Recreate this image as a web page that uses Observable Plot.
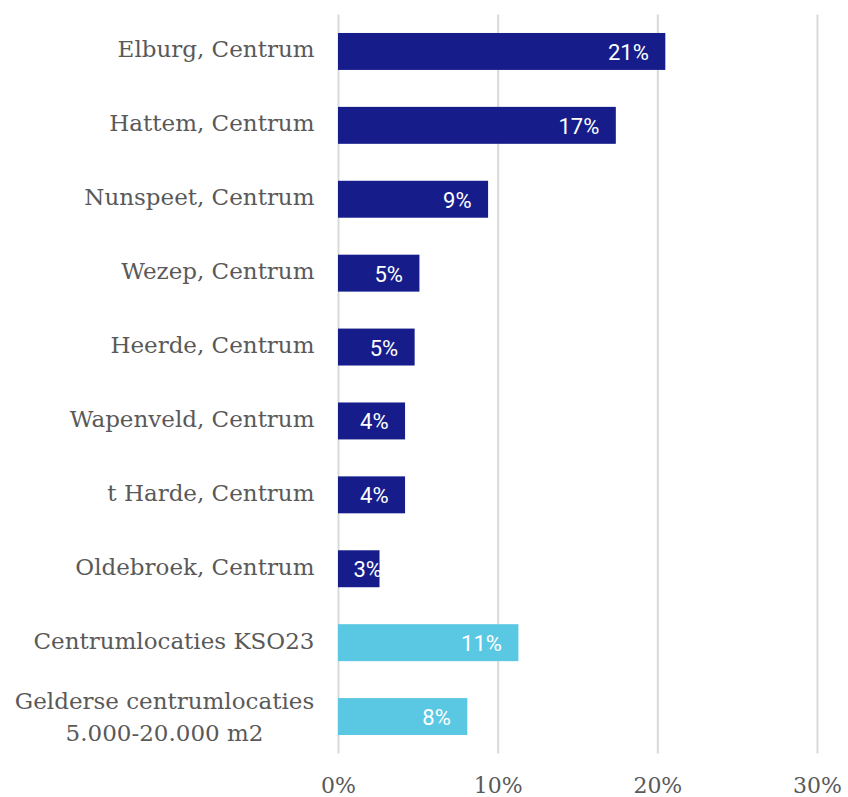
<!DOCTYPE html>
<html>
<head>
<meta charset="utf-8">
<script src="https://cdn.jsdelivr.net/npm/d3@7"></script>
<script src="https://cdn.jsdelivr.net/npm/@observablehq/plot@0.6"></script>
<style>
  html, body { margin: 0; padding: 0; background: #fff; }
  #chart svg { display: block; }
</style>
</head>
<body>
<div id="chart"></div>
<script>
const categories = [
  "Elburg, Centrum",
  "Hattem, Centrum",
  "Nunspeet, Centrum",
  "Wezep, Centrum",
  "Heerde, Centrum",
  "Wapenveld, Centrum",
  "t Harde, Centrum",
  "Oldebroek, Centrum",
  "Centrumlocaties KSO23",
  "Gelderse centrumlocaties\n5.000-20.000 m2"
];
const values = [0.205, 0.174, 0.094, 0.051, 0.048, 0.042, 0.042, 0.026, 0.113, 0.081];
const labels = ["21%", "17%", "9%", "5%", "5%", "4%", "4%", "3%", "11%", "8%"];
const groups = ["local", "local", "local", "local", "local", "local", "local", "local", "benchmark", "benchmark"];
const xTicks = [0, 0.1, 0.2, 0.3];

const data = categories.map((c, i) => ({cat: c, v: values[i], label: labels[i], group: groups[i]}));
const fits = d => d.v >= 0.03;
const singleLine = categories.filter(c => !c.includes("\n"));
const multiLine = categories.filter(c => c.includes("\n"));

const chart = Plot.plot({
  width: 848,
  height: 797,
  marginLeft: 338,
  marginRight: 31,
  marginTop: 14.5,
  marginBottom: 43.5,
  style: {background: "#fff"},
  x: {domain: [0, 0.3], axis: null, label: null},
  y: {domain: categories, paddingInner: 0.5, paddingOuter: 0.25, round: false, axis: null, label: null},
  color: {domain: ["local", "benchmark"], range: ["#161d8b", "#5bc8e3"]},
  marks: [
    Plot.gridX(xTicks, {stroke: "#d9d9d9", strokeOpacity: 1, strokeWidth: 2}),
    Plot.barX(data, {x: "v", y: "cat", fill: "group"}),
    Plot.text(data.filter(fits), {x: "v", y: "cat", text: "label", textAnchor: "end", dx: -17, dy: 1,
      fill: "white", fontFamily: "Roboto", fontSize: 22}),
    Plot.text(data.filter(d => !fits(d)), {x: 0, y: "cat", text: "label", textAnchor: "start", dx: 15, dy: 1,
      fill: "white", fontFamily: "Roboto", fontSize: 22}),
    Plot.axisY(singleLine, {tickSize: 0, tickPadding: 24, fontSize: 23, fontFamily: "DejaVu Serif",
      fill: "#595959", dy: -2, label: null}),
    Plot.text(multiLine, {y: d => d, text: d => d, frameAnchor: "left", textAnchor: "middle",
      dx: -174, dy: -2, fontSize: 23, fontFamily: "DejaVu Serif", fill: "#595959", lineHeight: 1.35}),
    Plot.axisX(xTicks, {tickSize: 0, tickPadding: 23, fontSize: 22, fontFamily: "DejaVu Serif",
      fill: "#595959", label: null, tickFormat: d => Math.round(d * 100) + "%"})
  ]
});
document.getElementById("chart").append(chart);
</script>
</body>
</html>
